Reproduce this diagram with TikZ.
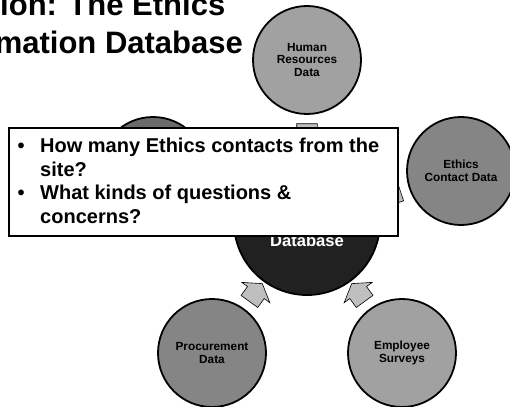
\documentclass[tikz,border=0pt]{standalone}
\usepackage{fontspec}
\setmainfont{Liberation Sans}
\usetikzlibrary{shapes.arrows}
\definecolor{palegray}{gray}{0.63}
\definecolor{midgray}{gray}{0.52}
\definecolor{deepgray}{gray}{0.42}
\definecolor{hubgray}{gray}{0.13}
\definecolor{feedgray}{gray}{0.75}
\begin{document}
\begin{tikzpicture}[x=1pt,y=1pt,
  source/.style={circle,draw=black,line width=1.8pt,minimum size=108pt,align=center,
    font=\fontsize{11.8}{12.6}\selectfont\bfseries},
  hub/.style={circle,draw=black,line width=1.8pt,fill=hubgray,minimum size=146pt},
  feed/.style={single arrow,draw=black,line width=0.6pt,fill=feedgray,sloped,allow upside down,
    inner xsep=0pt,inner ysep=10pt,minimum height=22pt,single arrow head extend=7pt,
    single arrow tip angle=115},
  qline/.style={anchor=base west,font=\fontsize{20}{23}\selectfont\bfseries},
  heading/.style={anchor=base west,font=\fontsize{31}{37}\selectfont\bfseries}]
\tikzstyle{every node}+=[inner sep=0pt]
\useasboundingbox (0,0) rectangle (510,-406);
% title, cut at the left edge
\node[heading] (title1) at (0,-15.5) {ion: The Ethics};
\node[heading] (title2) at (-5.4,-53.3) {mation Database};
% discs
\node[hub] (db) at (307,-222) {};
\node[font=\fontsize{16.6}{20}\selectfont\bfseries,text=white,anchor=base] (dblabel) at (307,-246) {Database};
\node[source,fill=palegray] (hr) at (307,-60) {Human\\Resources\\Data};
\node[source,fill=midgray] (ecd) at (461,-171) {Ethics\\Contact Data};
\node[source,fill=deepgray] (site) at (153,-171) {};
\node[source,fill=midgray] (proc) at (212,-353) {Procurement\\Data};
\node[source,fill=palegray] (emp) at (402,-353) {Employee\\Surveys};
% arrows into the hub
\foreach \src in {hr,ecd,site,proc,emp}
  \path (\src) -- (db) node[feed,pos=0.5] (a\src) {};
% question box
\node[draw=black,line width=1.4pt,fill=white,minimum width=389pt,minimum height=108pt] (qbox) at (203.5,-182) {};
\node[qline] (b1) at (17.5,-152.7) {•};
\node[qline] (q1) at (40,-152.7) {How many Ethics contacts from the};
\node[qline] (q2) at (40,-176.3) {site?};
\node[qline] (b2) at (17.5,-199.8) {•};
\node[qline] (q3) at (40,-199.8) {What kinds of questions \&};
\node[qline] (q4) at (40,-223.3) {concerns?};
\end{tikzpicture}
\end{document}
